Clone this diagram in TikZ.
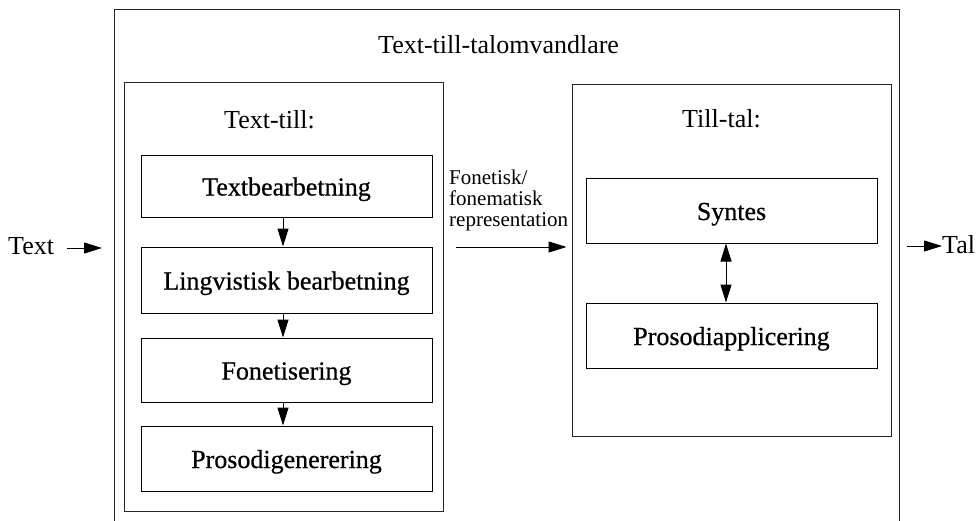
\documentclass[tikz,border=0pt]{standalone}
\usepackage{fontspec}
\setmainfont{Liberation Serif}
\newfontfamily\boxfont{Liberation Serif}[FakeBold=0.6]
\usetikzlibrary{arrows.meta}
\begin{document}
\begin{tikzpicture}[x=1pt,y=-1pt,
  box/.style={draw=black, line width=1pt, minimum width=291pt, inner sep=0pt,
    text height=19pt, text depth=0pt, font=\boxfont\fontsize{26}{26}\selectfont},
  frame/.style={draw=black!85, line width=1pt, inner sep=0pt},
  lbl/.style={anchor=base west, inner sep=0pt, font=\fontsize{26}{26}\selectfont},
  small/.style={anchor=base west, inner sep=0pt, font=\fontsize{21}{21}\selectfont},
  arr/.style={line width=1pt, -{Triangle[length=18pt,width=11pt]}},
  darr/.style={line width=1pt, {Triangle[length=18pt,width=11pt]}-{Triangle[length=18pt,width=11pt]}}]
\useasboundingbox (0,0) rectangle (977,520);
% outer frame (bottom edge lies outside the picture)
\draw[frame] (114,530) -- (114,9) -- (899,9) -- (899,530);
\node[lbl] (title) at (378,53) {Text-till-talomvandlare};
% inner frames
\node[frame, minimum width=319pt, minimum height=429pt] (left) at (283.5,296.5) {};
\node[frame, minimum width=319pt, minimum height=352pt] (right) at (731.5,260) {};
\node[lbl] (lt) at (224,128) {Text-till:};
\node[lbl] (rt) at (682,127) {Till-tal:};
% left boxes
\node[box, minimum height=62pt] (tb) at (286.5,186) {Textbearbetning};
\node[box, minimum height=66pt] (lb) at (286.5,280) {Lingvistisk bearbetning};
\node[box, minimum height=64pt] (fo) at (286.5,370) {Fonetisering};
\node[box, minimum height=65pt] (pg) at (286.5,458.5) {Prosodigenerering};
% right boxes
\node[box, minimum height=65pt] (sy) at (731.5,210.5) {Syntes};
\node[box, minimum height=65pt] (pa) at (731.5,335.5) {Prosodiapplicering};
% arrows in left frame
\draw[arr] ([xshift=-3.5pt]tb.south) -- ([xshift=-3.5pt]lb.north);
\draw[arr] ([xshift=-3.5pt]lb.south) -- ([xshift=-3.5pt]fo.north);
\draw[arr] ([xshift=-3.5pt]fo.south) -- ([xshift=-3.5pt]pg.north);
% double arrow in right frame
\draw[darr] ([xshift=-5.5pt]sy.south) -- ([xshift=-5.5pt]pa.north);
% representation
\node[small] (r1) at (449,184) {Fonetisk/};
\node[small] (r2) at (449,205) {fonematisk};
\node[small] (r3) at (449,226) {representation};
\draw[arr] ([xshift=12pt]left.east |- 0,247) -- ([xshift=-5pt]right.west |- 0,247);
% input / output
\node[lbl] (tin) at (8,254) {Text};
\coordinate (inS) at (67,248);
\coordinate (inE) at (102,248);
\draw[arr] (inS) -- (inE);
\node[lbl] (tout) at (942,253) {Tal};
\coordinate (outS) at (907,246);
\draw[arr] (outS) -- (tout.west |- outS);
\end{tikzpicture}
\end{document}
